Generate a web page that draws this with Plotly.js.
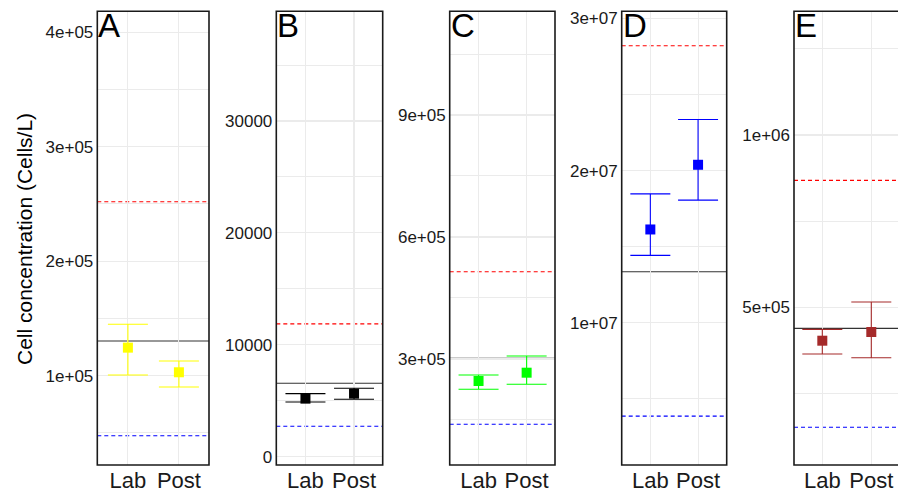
<!DOCTYPE html>
<html>
<head>
<meta charset="utf-8">
<script src="https://cdn.plot.ly/plotly-3.0.1.min.js"></script>
<style>html,body{margin:0;padding:0;background:#fff;}#chart{width:898px;height:493px;}</style>
</head>
<body>
<div id="chart"></div>
<script>
// ---- data ----
const categories = ['Lab', 'Post'];
const panelLetters = ['A', 'B', 'C', 'D', 'E'];
const panelColors = ['#FFFF00', '#000000', '#00FF00', '#0000FF', '#A52A2A'];

const meanA = [124500, 103000];
const upperA = [145000, 112800];
const lowerA = [100600, 90100];

const meanB = [5190, 5635];
const upperB = [5635, 6120];
const lowerB = [4890, 5130];

const meanC = [245900, 266300];
const upperC = [260700, 307400];
const lowerC = [225500, 237800];

const meanD = [16130000, 20380000];
const upperD = [18470000, 23350000];
const lowerD = [14430000, 18060000];

const meanE = [403100, 428300];
const upperE = [436000, 515400];
const lowerE = [364500, 353700];

const redLine = [252000, 11870, 514700, 28200000, 868500];
const blackLine = [130300, 6565, 301700, 13350000, 439000];
const blueLine = [47600, 2720, 139400, 3870000, 152000];

const tickValsA = [100000, 200000, 300000, 400000];
const tickTextA = ['1e+05', '2e+05', '3e+05', '4e+05'];
const tickValsB = [0, 10000, 20000, 30000];
const tickTextB = ['0', '10000', '20000', '30000'];
const tickValsC = [300000, 600000, 900000];
const tickTextC = ['3e+05', '6e+05', '9e+05'];
const tickValsD = [10000000, 20000000, 30000000];
const tickTextD = ['1e+07', '2e+07', '3e+07'];
const tickValsE = [500000, 1000000];
const tickTextE = ['5e+05', '1e+06'];

const yTitle = 'Cell concentration (Cells/L)';

// ---- build ----
const means = [meanA, meanB, meanC, meanD, meanE];
const uppers = [upperA, upperB, upperC, upperD, upperE];
const lowers = [lowerA, lowerB, lowerC, lowerD, lowerE];
const tickVals = [tickValsA, tickValsB, tickValsC, tickValsD, tickValsE];
const tickTexts = [tickTextA, tickTextB, tickTextC, tickTextD, tickTextE];
const minorStep = [50000, 5000, 150000, 5000000, 250000];

const W = 898, H = 493;
const xDomPx = [[97.3, 209], [276.3, 382.7], [449.7, 555], [621.7, 726.7], [794, 898]];
const xRanges = [[-0.6, 1.59], [-0.6, 1.59], [-0.6, 1.59], [-0.6, 1.6], [-0.578, 1.545]];
const yRanges = [[22000, 418300], [-740, 39800], [39300, 1155000], [660000, 30460000], [42400, 1359000]];
const yDom = [1 - 465 / H, 1 - 11.3 / H];

const traces = [];
const shapes = [];
const annotations = [];
const layout = {
  width: W, height: H,
  margin: {l: 0, r: 0, t: 0, b: 0},
  paper_bgcolor: '#ffffff',
  plot_bgcolor: '#ffffff',
  showlegend: false,
  hovermode: false,
  font: {family: '"Liberation Sans", Arial, sans-serif', color: '#1a1a1a'}
};

for (let i = 0; i < 5; i++) {
  const sfx = i === 0 ? '' : String(i + 1);
  const m = means[i], u = uppers[i], l = lowers[i];
  traces.push({
    type: 'scatter', mode: 'markers',
    x: categories, y: m,
    xaxis: 'x' + sfx, yaxis: 'y' + sfx,
    marker: {symbol: 'square', size: 10, color: panelColors[i]},
    error_y: {
      type: 'data', symmetric: false,
      array: u.map((v, k) => v - m[k]),
      arrayminus: l.map((v, k) => m[k] - v),
      color: panelColors[i], thickness: 1.1, width: 20
    },
    cliponaxis: false
  });
  layout['xaxis' + sfx] = {
    domain: [xDomPx[i][0] / W, Math.min(1, xDomPx[i][1] / W)],
    anchor: 'y' + sfx,
    type: 'category',
    range: xRanges[i],
    showgrid: true, gridcolor: '#ebebeb', gridwidth: 1.1,
    zeroline: false, showline: false, ticks: '',
    ticklabelstandoff: 0,
    tickfont: {size: 22, color: '#1a1a1a'},
    fixedrange: true
  };
  layout['yaxis' + sfx] = {
    domain: yDom,
    anchor: 'x' + sfx,
    range: yRanges[i],
    tickvals: tickVals[i], ticktext: tickTexts[i],
    showgrid: true, gridcolor: '#ebebeb', gridwidth: 1.1,
    minor: {dtick: minorStep[i], tick0: 0, showgrid: true, gridcolor: '#ebebeb', gridwidth: 1, ticks: ''},
    zeroline: false, showline: false, ticks: '',
    ticklabelstandoff: 3,
    tickfont: {size: 17, color: '#1a1a1a'},
    fixedrange: true
  };
  const xd = 'x' + sfx + ' domain';
  const yr = 'y' + sfx;
  shapes.push({type: 'line', xref: xd, yref: yr, x0: 0, x1: 1, y0: redLine[i], y1: redLine[i],
    line: {color: '#ff0000', width: 1.1, dash: '4px,3px'}, layer: 'below'});
  shapes.push({type: 'line', xref: xd, yref: yr, x0: 0, x1: 1, y0: blueLine[i], y1: blueLine[i],
    line: {color: '#0000ff', width: 1.1, dash: '4px,3px'}, layer: 'below'});
  shapes.push({type: 'line', xref: xd, yref: yr, x0: 0, x1: 1, y0: blackLine[i], y1: blackLine[i],
    line: {color: '#333333', width: 1.1}, layer: 'below'});
  shapes.push({type: 'rect', xref: xd, yref: 'y' + sfx + ' domain', x0: 0, x1: i === 4 ? 1.2 : 1, y0: 0, y1: 1,
    line: {color: '#1a1a1a', width: 1.6}, fillcolor: 'rgba(0,0,0,0)', layer: 'above'});
  annotations.push({
    xref: xd, yref: 'y' + sfx + ' domain', x: 0, y: 1.012,
    xanchor: 'left', yanchor: 'top', showarrow: false,
    text: panelLetters[i], font: {size: 33, color: '#000000'}, borderpad: 0
  });
}
annotations.push({
  xref: 'paper', yref: 'paper', x: 25 / W, y: 1 - 239 / H,
  xanchor: 'center', yanchor: 'middle', showarrow: false, textangle: -90,
  text: yTitle, font: {size: 21, color: '#000000'}
});

layout.shapes = shapes;
layout.annotations = annotations;

Plotly.newPlot('chart', traces, layout, {displayModeBar: false, staticPlot: true});
</script>
</body>
</html>
